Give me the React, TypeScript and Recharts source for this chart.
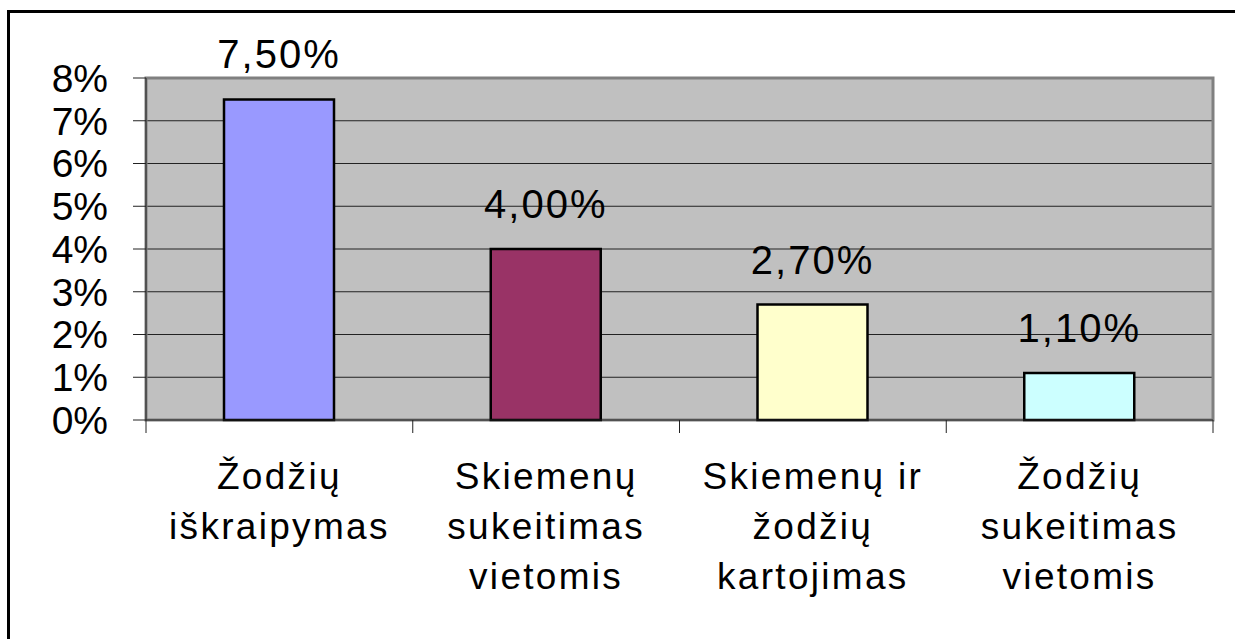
import React from 'react';
import { Bar, BarChart, CartesianGrid, Cell, LabelList, ReferenceArea, XAxis, YAxis } from 'recharts';

const categories = [
  "Žodžių\niškraipymas",
  "Skiemenų\nsukeitimas\nvietomis",
  "Skiemenų ir\nžodžių\nkartojimas",
  "Žodžių\nsukeitimas\nvietomis",
];
const values = [0.075, 0.04, 0.027, 0.011];
const barColors = ["#9999FF", "#993366", "#FFFFCC", "#CCFFFF"];
const yTicks = [0, 0.01, 0.02, 0.03, 0.04, 0.05, 0.06, 0.07, 0.08];
const edgeTicks = [0, 1, 2, 3, 4];

const data = categories.map((name, i) => ({ name, value: values[i], pos: i + 0.5 }));

const FONT = '"Liberation Sans", Arial, sans-serif';

const pct = (v: number) => `${Math.round(v * 100)}%`;
const pctComma = (v: any) => `${(Number(v) * 100).toFixed(2).replace('.', ',')}%`;

const CategoryTick = (props: any) => {
  const { x, y, payload } = props;
  const lines = String(payload.value).split('\n');
  return (
    <text x={x} y={y} textAnchor="middle" fontSize={37} fill="#000" fontFamily={FONT} letterSpacing={2.3}>
      {lines.map((l, i) => (
        <tspan key={i} x={x} dy={i === 0 ? 68 : 50}>{l}</tspan>
      ))}
    </text>
  );
};

const App = () => {
  return (
    <div style={{ position: 'absolute', left: 0, top: 0, width: 1235, height: 639, overflow: 'hidden', background: '#fff' }}>
      <div style={{ position: 'absolute', left: 7, top: 10, width: 1300, height: 700, border: '3px solid #000' }} />
      <div style={{ position: 'absolute', left: 0, top: 0 }}>
        <BarChart width={1235} height={639} data={data} margin={{ top: 78, right: 22, left: 0, bottom: 0 }}>
          <CartesianGrid xAxisId="b" vertical={false} fill="#C0C0C0" stroke="#222" strokeWidth={1.2} />
          <XAxis
            xAxisId="b"
            dataKey="name"
            axisLine={false}
            tickLine={false}
            tickSize={0}
            tickMargin={0}
            height={218}
            interval={0}
            tick={<CategoryTick />}
          />
          <XAxis
            xAxisId="a"
            dataKey="pos"
            type="number"
            domain={[0, 4]}
            allowDataOverflow
            ticks={edgeTicks}
            tickSize={13}
            tickFormatter={() => ''}
            height={1}
            stroke="#222"
          />
          <YAxis
            domain={[0, 0.08]}
            ticks={yTicks}
            tickFormatter={pct}
            width={146}
            tickSize={13}
            tickMargin={25}
            stroke="#222"
            tick={{ fontSize: 39, fill: '#000', fontFamily: FONT }}
            interval={0}
          />
          <ReferenceArea xAxisId="a" x1={0} x2={4} y1={0} y2={0.08} fill="none" stroke="#808080" strokeWidth={3} />
          <Bar xAxisId="b" dataKey="value" barSize={110} stroke="#000" strokeWidth={2.5} isAnimationActive={false}>
            {data.map((d, i) => (
              <Cell key={`cell-${i}`} fill={barColors[i % barColors.length]} />
            ))}
            <LabelList dataKey="value" position="top" offset={31} formatter={pctComma} fontSize={40} letterSpacing={2} fill="#000" fontFamily={FONT} />
          </Bar>
        </BarChart>
      </div>
    </div>
  );
};

export default App;
